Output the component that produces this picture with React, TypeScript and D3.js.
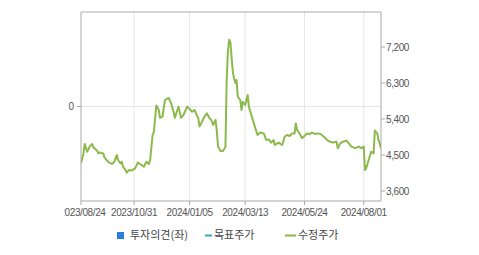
import React from "react";
import * as d3 from "d3";

// trading-day index (0 = 2023/08/24) and adjusted close price
const dayIndex = [0,2,3,5,6,7,9,10,11,13,14,15,18,19,22,25,27,29,30,32,33,34,36,37,39,41,44,46,49,51,53,55,56,58,59,60,61,63,64,66,68,71,73,75,76,79,81,83,86,88,90,92,94,95,96,98,100,102,104,106,107,109,110,111,113,115,117,118,119,120,121,122,123,124,125,126,127,129,130,131,133,135,136,138,140,141,143,145,148,150,152,154,156,157,160,163,165,167,169,171,173,174,175,177,179,181,183,185,187,190,192,194,196,198,200,202,204,207,208,210,212,215,217,219,222,225,227,229,230,231,233,235,237,238,240,241,242,243];
const adjPrice = [4300,4540,4775,4580,4640,4710,4775,4690,4670,4610,4540,4560,4540,4440,4330,4275,4330,4500,4375,4290,4330,4210,4125,4060,4125,4110,4170,4310,4250,4210,4330,4275,4375,5000,5080,5400,5740,5625,5430,5460,5875,5930,5790,5580,5430,5710,5430,5500,5710,5650,5580,5625,5480,5420,5210,5330,5460,5540,5430,5350,5250,5375,5100,4710,4600,4600,4700,6375,7100,7380,7325,6925,6575,6420,6300,6375,5960,5875,5625,5830,5750,6000,5710,5500,5290,5190,5000,5060,5040,4875,4890,4810,4875,4750,4810,4750,4960,5000,4975,5040,5040,5290,5125,5040,4920,4975,5040,5020,5060,5025,5040,5025,4975,4920,4860,4830,4810,4830,4670,4790,4830,4860,4790,4710,4670,4710,4670,4710,4125,4170,4375,4580,4540,5110,5040,4875,4790,4670];

const xTickIndex = [0, 43, 88, 133, 181, 229];
const xTickLabels = ["2023/08/24", "2023/10/31", "2024/01/05", "2024/03/13", "2024/05/24", "2024/08/01"];
const rightTicks = [3600, 4500, 5400, 6300, 7200];
const leftTicks = [0];
const legendLabels = ["투자의견(좌)", "목표주가", "수정주가"];

const W = 479, H = 255;
const L = 81, R = 381, T = 12, B = 201;
const GREEN = "#8cb94b";
const AXIS = "#aaaaaa";
const GRID = "#e6e6e6";
const TXT = "#555555";

export default function App() {
  const x = d3.scaleLinear().domain([0, 243]).range([L, R]);
  const yR = d3.scaleLinear().domain([3350, 8075]).range([B, T]);
  const yL = d3.scaleLinear().domain([-1, 1]).range([B, T]);
  const pts = dayIndex.map((d, i) => [d, adjPrice[i]] as [number, number]);
  const line = d3.line<[number, number]>().x(d => x(d[0])).y(d => yR(d[1]));
  const font = "'Liberation Sans', Arial, sans-serif";
  const kfont = "'Noto Sans CJK KR', 'Noto Sans', sans-serif";
  return (
    <svg width={W} height={H} style={{ position: "absolute", left: 0, top: 0 }}>
      <defs>
        <clipPath id="vis"><rect x={64.5} y={0} width={W - 64.5} height={H} /></clipPath>
        <clipPath id="plot"><rect x={L} y={T} width={R - L} height={B - T} /></clipPath>
      </defs>
      <rect width={W} height={H} fill="#fff" />
      {xTickIndex.slice(1).map(t => (
        <line key={t} x1={x(t)} x2={x(t)} y1={T} y2={B} stroke={GRID} />
      ))}
      {leftTicks.map(t => (
        <line key={t} x1={L} x2={R} y1={yL(t)} y2={yL(t)} stroke={GRID} />
      ))}
      <path d={line(pts) || ""} fill="none" stroke={GREEN} strokeWidth={2} strokeLinejoin="round" clipPath="url(#plot)" />
      <line x1={L} x2={R} y1={T} y2={T} stroke={AXIS} />
      <line x1={L} x2={L} y1={T} y2={B} stroke={AXIS} />
      <line x1={R} x2={R} y1={T} y2={B} stroke={AXIS} />
      <line x1={L} x2={R} y1={B} y2={B} stroke={AXIS} />
      {rightTicks.map(t => (
        <g key={t}>
          <line x1={R} x2={R + 4} y1={yR(t)} y2={yR(t)} stroke={AXIS} />
          <text x={R + 5} y={yR(t)} dy="0.35em" fontSize={10} fontFamily={font} fill={TXT} letterSpacing={-0.4}>
            {d3.format(",")(t)}
          </text>
        </g>
      ))}
      {leftTicks.map(t => (
        <g key={t}>
          <line x1={L - 4} x2={L} y1={yL(t)} y2={yL(t)} stroke={AXIS} />
          <text x={L - 7} y={yL(t)} dy="0.35em" textAnchor="end" fontSize={10} fontFamily={font} fill={TXT}>{t}</text>
        </g>
      ))}
      <g clipPath="url(#vis)">
        {xTickIndex.map((t, i) => (
          <g key={t}>
            <line x1={x(t)} x2={x(t)} y1={B} y2={B + 4} stroke={AXIS} />
            <text x={i === 0 ? 105.5 : x(t)} y={B + 15} textAnchor={i === 0 ? "end" : "middle"} fontSize={10} fontFamily={font} fill={TXT} letterSpacing={-0.4}>
              {xTickLabels[i]}
            </text>
          </g>
        ))}
      </g>
      <g fontSize={11} fontFamily={kfont} fill="#444">
        <rect x={117} y={232} width={7} height={7} fill="#2b7de0" />
        <text x={130} y={235.5} dy="0.35em">{legendLabels[0]}</text>
        <line x1={205} x2={212} y1={235.5} y2={235.5} stroke="#35aab8" strokeWidth={2} />
        <text x={214} y={235.5} dy="0.35em">{legendLabels[1]}</text>
        <line x1={285} x2={296} y1={235.5} y2={235.5} stroke={GREEN} strokeWidth={2} />
        <text x={298} y={235.5} dy="0.35em">{legendLabels[2]}</text>
      </g>
    </svg>
  );
}
